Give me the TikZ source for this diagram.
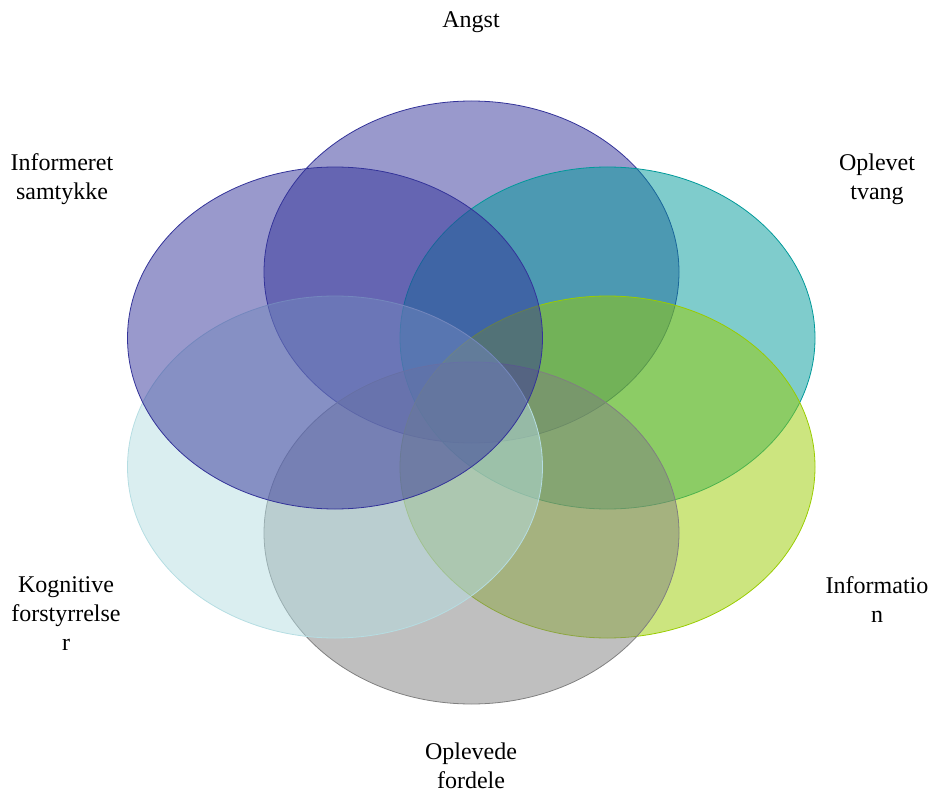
\documentclass[tikz,border=0pt]{standalone}
\usepackage{fontspec}
\setmainfont{Liberation Serif}
\usetikzlibrary{shapes.geometric}
\definecolor{angstc}{RGB}{51,51,153}
\definecolor{tvangc}{RGB}{0,153,153}
\definecolor{infoc}{RGB}{153,204,0}
\definecolor{fordelc}{RGB}{128,128,128}
\definecolor{kognc}{RGB}{181,221,226}

\begin{document}
\begin{tikzpicture}[x=1pt,y=-1pt,
  blob/.style={ellipse,draw=#1,fill=#1,fill opacity=0.5,line width=0.8pt,
  minimum width=415pt,minimum height=342pt,inner sep=0pt},
  lbl/.style={align=center,font=\fontsize{24}{29}\selectfont,inner sep=0pt}]
\useasboundingbox (0,0) rectangle (933,791);
\node[blob=angstc](angst) at (471.5,272){};
\node[blob=tvangc](tvang) at (607.5,338){};
\node[blob=infoc](info) at (607.5,467){};
\node[blob=fordelc](fordel) at (471.5,533){};
\node[blob=kognc](kogn) at (335,467){};
\node[blob=angstc](samtykke) at (335,338){};

\node[lbl](langst) at (471,22){Angst};
\node[lbl](ltvang) at (877,179){Oplevet\\tvang};
\node[lbl](linfo) at (877,600){Informatio\\n};
\node[lbl](lfordel) at (471,766){Oplevede\\fordele};
\node[lbl](lkogn) at (66,614){Kognitive\\forstyrrelse\\r};
\node[lbl](lsamtykke) at (62,179){Informeret\\samtykke};
\end{tikzpicture}
\end{document}
